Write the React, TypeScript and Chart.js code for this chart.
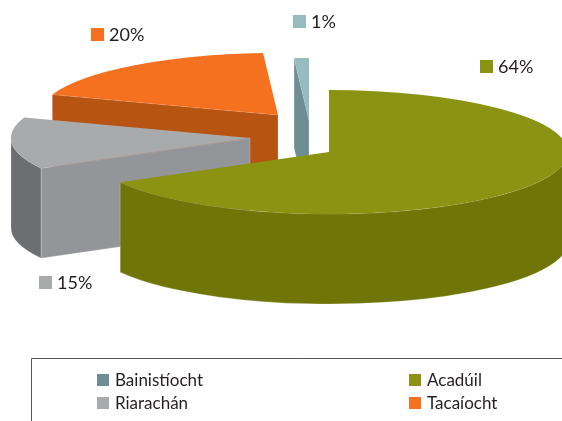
import React, { useEffect, useRef } from "react";
import { Chart, registerables } from "chart.js";

Chart.register(...registerables);

// Data, in the reference's legend order
const categories = ["Bainistíocht", "Acadúil", "Riarachán", "Tacaíocht"];
const shares = [1, 64, 15, 20];

// Styles
const topColors = ["#97bcc0", "#8b9313", "#a9aaac", "#f57120"];
const cutColors = ["#6f8e93", "#6f7507", "#939598", "#b85412"];
const rimColors = ["#6f8e93", "#6f7507", "#6d6e71", "#b85412"];
const legendColors = ["#6f8e93", "#8b9313", "#a9aaac", "#f57120"];

// Layout of the tilted pie
const apexes = [[309, 120], [329, 152], [250, 138], [278, 115]];
const RX = 239;
const RY = 62;
const DEPTH = 90;
const PAINT_ORDER = [0, 3, 2, 1];
// The reference's view foreshortens the angles a little; degrees at the far end of the warp
const FORESHORTEN = 6.4;

// Layout of the text blocks
const valueLabelBoxes = [[293, 15], [480, 60], [39, 276], [91, 28]];
const legendBoxes = [[97, 374], [409, 374], [97, 397], [409, 397]];
const SWATCH = 13;
const FONT = '18px Lato';
const LEGEND_FONT = '17px Lato';
const TEXT = "#231f20";

const warp = (a: number) => {
  const theta = a + Math.PI / 2;
  return a + ((FORESHORTEN * Math.PI) / 180) * (1 - Math.cos(theta));
};

const pie3d = {
  id: "pie3d",
  afterDatasetsUpdate(chart: any) {
    chart.getDatasetMeta(0).data.forEach((arc: any) => {
      const s = warp(arc.startAngle);
      const e = warp(arc.endAngle);
      arc.startAngle = s;
      arc.endAngle = e;
      arc.circumference = e - s;
    });
  },
  beforeDatasetsDraw(chart: any) {
    const ctx: CanvasRenderingContext2D = chart.ctx;
    const arcs = chart.getDatasetMeta(0).data;
    const edge = () => {
      ctx.strokeStyle = "rgba(255,255,255,0.3)";
      ctx.lineWidth = 0.7;
      ctx.stroke();
    };
    PAINT_ORDER.forEach((i) => {
      const arc = arcs[i];
      const [ax, ay] = apexes[i];
      const s = arc.startAngle;
      const e = arc.endAngle;

      // rim wall: only the part of the arc that faces the viewer
      const lo = Math.max(s, 0);
      const hi = Math.min(e, Math.PI);
      if (hi > lo) {
        ctx.beginPath();
        ctx.ellipse(ax, ay, RX, RY, 0, lo, hi);
        ctx.ellipse(ax, ay + DEPTH, RX, RY, 0, hi, lo, true);
        ctx.closePath();
        ctx.fillStyle = rimColors[i];
        ctx.fill();
        edge();
      }

      // radial cut faces that face the viewer
      const cuts: number[] = [];
      if (Math.cos(s) < -1e-6) cuts.push(s);
      if (Math.cos(e) > 1e-6) cuts.push(e);
      cuts.forEach((a) => {
        const px = ax + Math.cos(a) * RX;
        const py = ay + Math.sin(a) * RY;
        ctx.beginPath();
        ctx.moveTo(ax, ay);
        ctx.lineTo(px, py);
        ctx.lineTo(px, py + DEPTH);
        ctx.lineTo(ax, ay + DEPTH);
        ctx.closePath();
        ctx.fillStyle = cutColors[i];
        ctx.fill();
        edge();
      });

      // top face: the library's own arc element under a tilt transform
      ctx.save();
      ctx.translate(ax, ay);
      ctx.scale(RX / arc.outerRadius, RY / arc.outerRadius);
      ctx.translate(-arc.x, -arc.y);
      arc.draw(ctx);
      ctx.restore();
    });
    return false;
  },
  afterDraw(chart: any) {
    const ctx: CanvasRenderingContext2D = chart.ctx;
    ctx.save();
    ctx.textBaseline = "alphabetic";
    ctx.textAlign = "left";

    // value labels
    ctx.font = FONT;
    shares.forEach((v, i) => {
      const [x, y] = valueLabelBoxes[i];
      ctx.fillStyle = topColors[i];
      ctx.fillRect(x, y, SWATCH, SWATCH);
      ctx.fillStyle = TEXT;
      ctx.fillText(`${v}%`, x + SWATCH + 5, y + 13);
    });

    // legend frame
    ctx.strokeStyle = "#555";
    ctx.lineWidth = 1;
    ctx.beginPath();
    ctx.moveTo(31.5, 421);
    ctx.lineTo(31.5, 358.5);
    ctx.lineTo(562, 358.5);
    ctx.stroke();

    // legend
    ctx.font = LEGEND_FONT;
    categories.forEach((c, i) => {
      const [x, y] = legendBoxes[i];
      ctx.fillStyle = legendColors[i];
      ctx.fillRect(x, y, 12, 12);
      ctx.fillStyle = TEXT;
      ctx.fillText(c, x + 18, y + 12);
    });
    ctx.restore();
  },
};

export default function App() {
  const ref = useRef<HTMLCanvasElement>(null);
  useEffect(() => {
    const chart = new Chart(ref.current!, {
      type: "pie",
      data: {
        labels: categories,
        datasets: [{ data: shares, backgroundColor: topColors, borderWidth: 0 }],
      },
      options: {
        animation: false,
        responsive: false,
        rotation: -3.6,
        plugins: { legend: { display: false }, tooltip: { enabled: false } },
      },
      plugins: [pie3d],
    } as any);
    return () => chart.destroy();
  }, []);
  return (
    <div style={{ position: "absolute", left: 0, top: 0, width: 562, height: 421, background: "#fff" }}>
      <canvas ref={ref} width={562} height={421} style={{ display: "block" }} />
    </div>
  );
}
